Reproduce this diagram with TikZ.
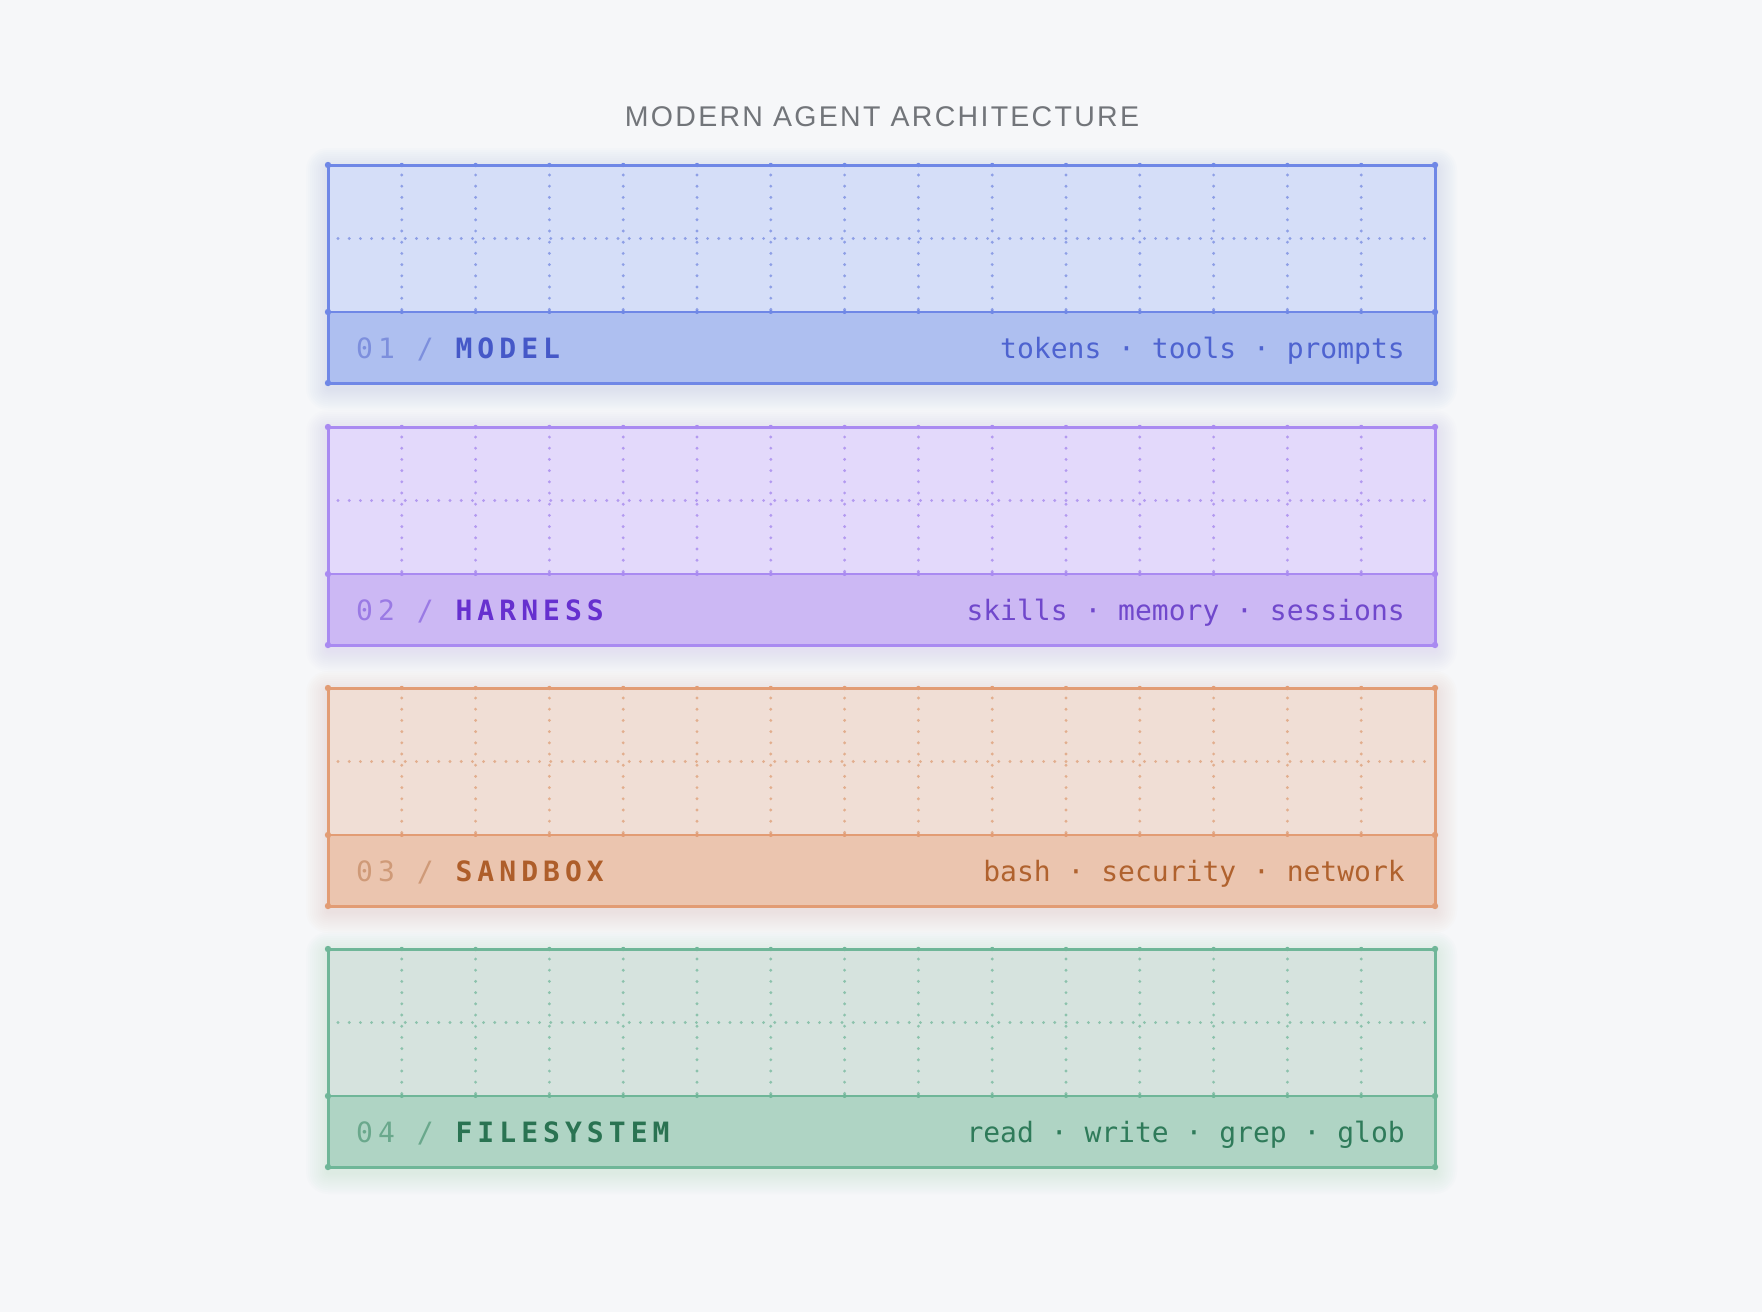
\documentclass[tikz,border=0pt]{standalone}
\usepackage{fontspec}
\setmainfont{Liberation Sans}
\newfontfamily\monofont{DejaVu Sans Mono}
\newfontfamily\monolabel[LetterSpace=18]{DejaVu Sans Mono}
\newfontfamily\titlefont[LetterSpace=8]{Liberation Sans}

\definecolor{bgc}{HTML}{F6F7F9}
\definecolor{titlec}{HTML}{72757A}
% layer a: model
\definecolor{afill}{HTML}{D5DEF8}
\definecolor{aband}{HTML}{AEBFF0}
\definecolor{aborder}{HTML}{6F87E6}
\definecolor{atext}{HTML}{4558C8}
\definecolor{anum}{HTML}{7D8FDD}
\definecolor{adots}{HTML}{8E9FE6}
\definecolor{aright}{HTML}{4E63D0}
% layer b: harness
\definecolor{bfill}{HTML}{E3D9FB}
\definecolor{bband}{HTML}{CCB8F4}
\definecolor{bborder}{HTML}{A98AF1}
\definecolor{btext}{HTML}{6630CF}
\definecolor{bnum}{HTML}{9A7AE4}
\definecolor{bdots}{HTML}{B39AF0}
\definecolor{bright}{HTML}{7048CC}
% layer c: sandbox
\definecolor{cfill}{HTML}{F0DED5}
\definecolor{cband}{HTML}{EBC5AF}
\definecolor{cborder}{HTML}{E29C74}
\definecolor{ctext}{HTML}{AE5E2A}
\definecolor{cnum}{HTML}{CF9A78}
\definecolor{cdots}{HTML}{E2AE8E}
\definecolor{cright}{HTML}{B0622E}
% layer d: filesystem
\definecolor{dfill}{HTML}{D6E3DE}
\definecolor{dband}{HTML}{AFD4C4}
\definecolor{dborder}{HTML}{6FB698}
\definecolor{dtext}{HTML}{2A7352}
\definecolor{dnum}{HTML}{6AA88C}
\definecolor{ddots}{HTML}{8CC2AC}
\definecolor{dright}{HTML}{2F7B5A}

\tikzset{
  gridline/.style={line width=3.2pt, line cap=round, dash pattern=on 0pt off 11.2pt},
  labeltext/.style={anchor=base west, inner sep=0pt, font=\monolabel\fontsize{28}{34}\selectfont},
  righttext/.style={anchor=base east, inner sep=0pt, font=\monofont\fontsize{28}{34}\selectfont},
}

\newcommand\agentlayer[6]{%
  \pgfmathsetmacro\yt{#2}%
  \pgfmathsetmacro\yd{#2+147}%
  \pgfmathsetmacro\yb{#2+218}%
  \pgfmathsetmacro\ym{#2+73.5}%
  \pgfmathsetmacro\ybase{#2+193}%
  \foreach \s in {2,4,...,22} {
    \fill[#1border, fill opacity=0.016, rounded corners=\s pt] (328-\s,\yt-\s+5) rectangle (1435+\s,\yb+\s+5);
  }
  \fill[#1fill] (328,\yt) rectangle (1435,\yd);
  \fill[#1band] (328,\yd) rectangle (1435,\yb);
  \foreach \i in {1,...,14} {
    \draw[#1dots, gridline] ({328+\i*73.8},\yt+10) -- ({328+\i*73.8},\yd);
    \fill[#1border] ({328+\i*73.8},\yt) circle (2.2pt);
    \fill[#1border] ({328+\i*73.8},\yd) circle (2pt);
  }
  \draw[#1dots, gridline] (338,\ym) -- (1435,\ym);
  \draw[#1border, line width=3pt] (328,\yt) rectangle (1435,\yb);
  \draw[#1border, line width=2.4pt] (328,\yd) -- (1435,\yd);
  \foreach \cx in {328,1435} {
    \fill[#1border] (\cx,\yt) circle (3.2pt);
    \fill[#1border] (\cx,\yd) circle (3.2pt);
    \fill[#1border] (\cx,\yb) circle (3.2pt);
  }
  \node[labeltext] (#6-label) at (356,\ybase) {\textcolor{#1num}{#3 /} \textcolor{#1text}{\bfseries #4}};
  \node[righttext, text=#1right] (#6-items) at (1405,\ybase) {#5};
}

\begin{document}
\begin{tikzpicture}[x=1pt,y=-1pt]
  \fill[bgc] (0,0) rectangle (1762,1312);
  \useasboundingbox (0,0) rectangle (1762,1312);
  \node[anchor=base, inner sep=0pt, text=titlec, font=\titlefont\fontsize{28.5}{34}\selectfont] (title) at (882,126) {MODERN AGENT ARCHITECTURE};
  \agentlayer{a}{165}{01}{MODEL}{tokens · tools · prompts}{model}
  \agentlayer{b}{427}{02}{HARNESS}{skills · memory · sessions}{harness}
  \agentlayer{c}{688}{03}{SANDBOX}{bash · security · network}{sandbox}
  \agentlayer{d}{949}{04}{FILESYSTEM}{read · write · grep · glob}{filesystem}
\end{tikzpicture}
\end{document}
